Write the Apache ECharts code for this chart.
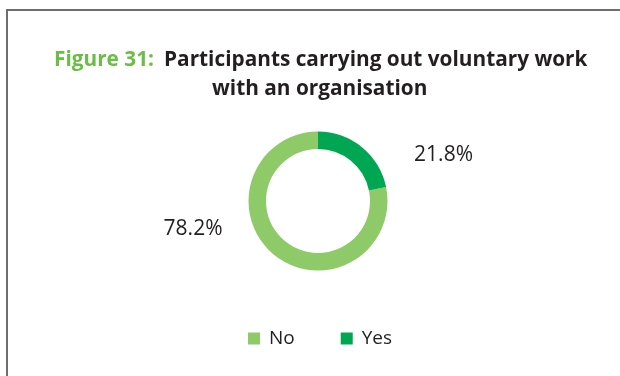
<!DOCTYPE html>
<html>
<head>
<meta charset="utf-8">
<script src="https://cdn.jsdelivr.net/npm/echarts@6/dist/echarts.min.js"></script>
<style>
  html, body { margin: 0; padding: 0; background: #ffffff; }
  #chart { width: 620px; height: 376px; }
</style>
</head>
<body>
<div id="chart"></div>
<script>
// Share of participants doing voluntary work with an organisation
const categories = ['No', 'Yes'];
const shares = [78.2, 21.8];
const colours = ['#8fca68', '#00a651'];

const titleLead = 'Figure 31:';
const titleLine1 = 'Participants carrying out voluntary work';
const titleLine2 = 'with an organisation';

const FONT = '"Open Sans", "Noto Sans", sans-serif';
const INK = '#231f20';

const chart = echarts.init(document.getElementById('chart'), null, { renderer: 'canvas' });

chart.setOption({
  backgroundColor: '#ffffff',
  animation: false,
  graphic: [{
    type: 'rect',
    shape: { x: 7, y: 10, width: 700, height: 500 },
    style: { fill: 'none', stroke: '#6d6e71', lineWidth: 2 },
    silent: true
  }],
  title: [{
    left: 49,
    top: 45,
    text: '{lead|' + titleLead + '}  {main|' + titleLine1 + '}',
    textStyle: {
      rich: {
        lead: { fontFamily: FONT, fontSize: 20.8, fontWeight: 'bold', color: '#6abd45' },
        main: { fontFamily: FONT, fontSize: 20.8, fontWeight: 'bold', color: INK }
      }
    }
  }, {
    left: 207,
    top: 74,
    text: titleLine2,
    textStyle: { fontFamily: FONT, fontSize: 20.8, fontWeight: 'bold', color: INK }
  }],
  legend: {
    data: categories,
    left: 243,
    top: 324,
    itemWidth: 12,
    itemHeight: 12,
    itemGap: 46,
    icon: 'rect',
    textStyle: { fontFamily: FONT, fontSize: 19, color: INK, padding: [0, 0, 0, 4] }
  },
  series: [{
    type: 'pie',
    center: [318, 201],
    radius: [52, 69.5],
    startAngle: 90,
    clockwise: false,
    silent: true,
    data: categories.map((name, i) => ({
      name: name,
      value: shares[i],
      itemStyle: { color: colours[i] }
    })),
    label: {
      show: true,
      position: 'outside',
      formatter: (p) => p.value.toFixed(1) + '%',
      fontFamily: FONT,
      fontSize: 21,
      color: INK
    },
    labelLine: { show: false },
    labelLayout: (p) => {
      const r = p.rect;
      if (p.dataIndex === 1) {
        return { x: r.x + r.width + 28, y: r.y + 24, align: 'left', verticalAlign: 'middle' };
      }
      return { x: r.x - 26, y: r.y + 98, align: 'right', verticalAlign: 'middle' };
    }
  }]
});
</script>
</body>
</html>
